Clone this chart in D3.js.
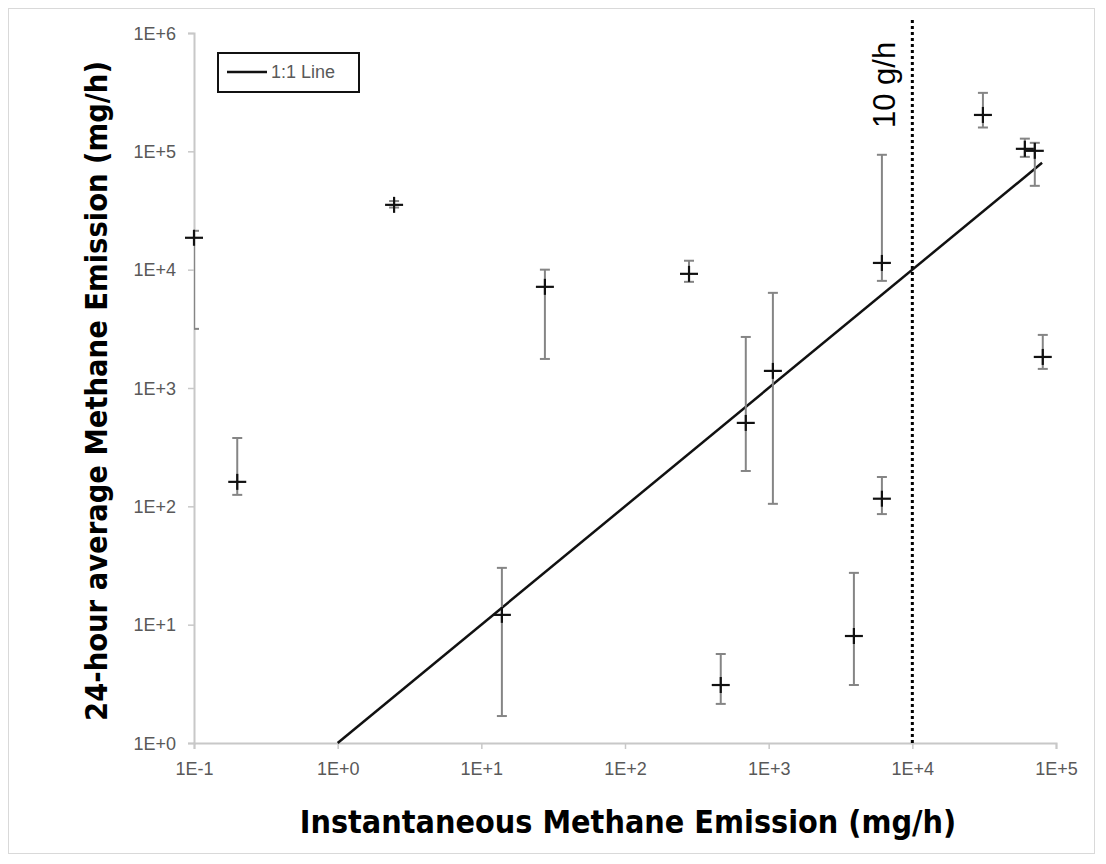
<!DOCTYPE html>
<html>
<head>
<meta charset="utf-8">
<script src="https://cdn.jsdelivr.net/npm/d3@7"></script>
<style>
  body { margin: 0; background: #fff; }
  .tick text { font-family: "Liberation Sans", Arial, sans-serif; font-size: 18px; fill: #595959; }
  .title { font-family: "Liberation Sans Narrow", "DejaVu Sans Condensed", sans-serif; font-weight: bold; font-size: 32px; fill: #000; }
</style>
</head>
<body>
<div id="chart"></div>
<script>
// Instantaneous emission (x) vs 24-hour average (y), both mg/h
const instX   = [0.1, 0.2, 2.47, 13.9, 27.7, 279, 464, 693, 1070, 3920, 6140, 6140, 31000, 60700, 71200, 80900];
const avgY    = [18600, 161, 35300, 12.1, 7160, 9220, 3.09, 507, 1395, 8.02, 11400, 116, 203000, 105000, 101000, 1830];
const errHigh = [21300, 378, 38000, 30.2, 10000, 11900, 5.65, 2700, 6370, 27.4, 93500, 177, 312000, 128000, 118000, 2810];
const errLow  = [3160, 125, 33500, 1.69, 1760, 7890, 2.14, 199, 105, 3.09, 8040, 86, 159000, 89800, 51100, 1450];

// 1:1 line end points and the 10 g/h threshold
const oneToOne = [1, 80000];
const threshold = 10000;
const thresholdSpan = [1, 1.3e6];

const xTicks = [0.1, 1, 10, 100, 1000, 10000, 100000];
const xTickLabels = ["1E-1", "1E+0", "1E+1", "1E+2", "1E+3", "1E+4", "1E+5"];
const yTicks = [1, 10, 100, 1000, 10000, 100000, 1000000];
const yTickLabels = ["1E+0", "1E+1", "1E+2", "1E+3", "1E+4", "1E+5", "1E+6"];

const W = 1106, H = 864;
const plot = { left: 194, right: 1056, top: 33, bottom: 743 };

const svg = d3.select("#chart").append("svg")
    .attr("width", W)
    .attr("height", H);

// outer frame
svg.append("rect")
    .attr("x", 8.5).attr("y", 8.5)
    .attr("width", 1086).attr("height", 845)
    .attr("fill", "#fff")
    .attr("stroke", "#d9d9d9");

const x = d3.scaleLog().domain([0.1, 1e5]).range([plot.left, plot.right]);
const y = d3.scaleLog().domain([1, 1e6]).range([plot.bottom, plot.top]);

svg.append("clipPath").attr("id", "clip")
  .append("rect")
    .attr("x", plot.left).attr("y", 0)
    .attr("width", plot.right - plot.left + 40).attr("height", plot.bottom);

// axes
const xAxis = svg.append("g")
    .attr("transform", `translate(0, ${plot.bottom})`)
    .call(d3.axisBottom(x).tickValues(xTicks).tickSize(6).tickPadding(10)
      .tickFormat((d, i) => xTickLabels[i]));
const yAxis = svg.append("g")
    .attr("transform", `translate(${plot.left}, 0)`)
    .call(d3.axisLeft(y).tickValues(yTicks).tickSize(6).tickPadding(12)
      .tickFormat((d, i) => yTickLabels[i]));
[xAxis, yAxis].forEach(g => {
  g.select(".domain").attr("stroke", "#c8c8c8").attr("stroke-width", 2);
  g.selectAll(".tick line").attr("stroke", "#c8c8c8").attr("stroke-width", 1.5);
});
xAxis.selectAll(".tick text").attr("dy", "0.9em");
yAxis.selectAll(".tick text").attr("dy", "0.35em");

// dotted 10 g/h line
svg.append("line")
    .attr("x1", x(threshold)).attr("x2", x(threshold))
    .attr("y1", y(thresholdSpan[0])).attr("y2", y(thresholdSpan[1]))
    .attr("stroke", "#000")
    .attr("stroke-width", 3)
    .attr("stroke-dasharray", "3,3");

svg.append("text")
    .attr("transform", `translate(${x(threshold) - 17}, 128) rotate(-90)`)
    .attr("font-family", "Liberation Sans, Arial, sans-serif")
    .attr("font-size", 31)
    .attr("fill", "#000")
    .text("10 g/h");

// 1:1 line
svg.append("line")
    .attr("x1", x(oneToOne[0])).attr("y1", y(oneToOne[0]))
    .attr("x2", x(oneToOne[1])).attr("y2", y(oneToOne[1]))
    .attr("stroke", "#111")
    .attr("stroke-width", 2.5);

const pts = instX.map((v, i) => ({ x: v, y: avgY[i], hi: errHigh[i], lo: errLow[i] }));

// error bars
const eb = svg.append("g").attr("clip-path", "url(#clip)")
  .selectAll("g.err")
  .data(pts)
  .join("g").attr("class", "err")
    .attr("stroke", "#858585")
    .attr("stroke-width", 2);
eb.append("line")
    .attr("x1", d => x(d.x)).attr("x2", d => x(d.x))
    .attr("y1", d => y(d.hi)).attr("y2", d => y(d.lo));
eb.append("line")
    .attr("x1", d => x(d.x) - 5).attr("x2", d => x(d.x) + 5)
    .attr("y1", d => y(d.hi)).attr("y2", d => y(d.hi));
eb.append("line")
    .attr("x1", d => x(d.x) - 5).attr("x2", d => x(d.x) + 5)
    .attr("y1", d => y(d.lo)).attr("y2", d => y(d.lo));

// plus markers
const mk = svg.append("g")
  .selectAll("g.mk")
  .data(pts)
  .join("g").attr("class", "mk")
    .attr("stroke", "#111")
    .attr("stroke-width", 2.2);
mk.append("line")
    .attr("x1", d => x(d.x) - 9).attr("x2", d => x(d.x) + 9)
    .attr("y1", d => y(d.y)).attr("y2", d => y(d.y));
mk.append("line")
    .attr("x1", d => x(d.x)).attr("x2", d => x(d.x))
    .attr("y1", d => y(d.y) - 8).attr("y2", d => y(d.y) + 8);

// legend
const lg = svg.append("g");
lg.append("rect")
    .attr("x", 218).attr("y", 53)
    .attr("width", 141).attr("height", 39)
    .attr("fill", "#fff")
    .attr("stroke", "#111")
    .attr("stroke-width", 2);
lg.append("line")
    .attr("x1", 227).attr("x2", 267)
    .attr("y1", 72).attr("y2", 72)
    .attr("stroke", "#111").attr("stroke-width", 2.5);
lg.append("text")
    .attr("x", 271).attr("y", 78)
    .attr("font-family", "Liberation Sans, Arial, sans-serif")
    .attr("font-size", 18)
    .attr("fill", "#595959")
    .text("1:1 Line");

// axis titles
svg.append("text")
    .attr("class", "title")
    .attr("x", (plot.left + plot.right) / 2 + 3)
    .attr("y", 833)
    .attr("text-anchor", "middle")
    .text("Instantaneous Methane Emission (mg/h)");

svg.append("text")
    .attr("class", "title")
    .attr("font-size", 30.5)
    .style("font-size", "30.5px")
    .attr("transform", `translate(107, ${(plot.top + plot.bottom) / 2 + 3}) rotate(-90)`)
    .attr("text-anchor", "middle")
    .text("24-hour average Methane Emission (mg/h)");
</script>
</body>
</html>
